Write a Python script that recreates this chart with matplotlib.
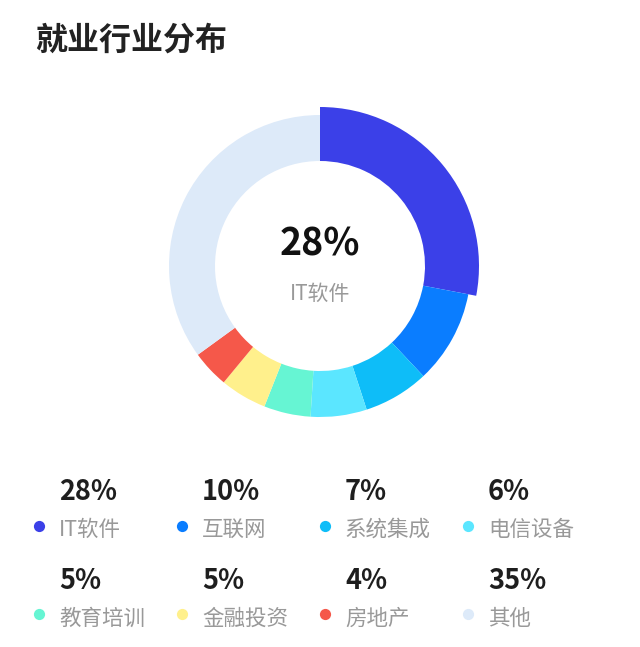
import matplotlib
matplotlib.use('Agg')
import matplotlib.pyplot as plt

plt.rcParams['font.family'] = ['Noto Sans CJK SC', 'DejaVu Sans']

# data
title = '就业行业分布'
industries = ['IT软件', '互联网', '系统集成', '电信设备', '教育培训', '金融投资', '房地产', '其他']
shares = [28, 10, 7, 6, 5, 5, 4, 35]
colors = ['#3B40E8', '#0A7DFF', '#0EBDF8', '#5BE6FF', '#66F5D3', '#FFF08C', '#F5584A', '#DDEAF9']
highlight = 0

W, H = 640, 647
fig = plt.figure(figsize=(W / 100, H / 100), dpi=100)
ax = fig.add_axes([0, 0, 1, 1])

cx, cy = 320, H - 266
r_out, r_in, r_hi = 151, 105, 159

wedges, _ = ax.pie(shares, colors=colors, startangle=90, counterclock=False,
                   center=(cx, cy), radius=r_out, frame=True,
                   wedgeprops=dict(width=r_out - r_in, linewidth=0))
wedges[highlight].set_radius(r_hi)
wedges[highlight].set_width(r_hi - r_in)
ax.set_xlim(0, W)
ax.set_ylim(0, H)
ax.set_aspect('equal')
ax.axis('off')

# centre label
ax.text(cx, H - 244, f'{shares[highlight]}%', ha='center', va='center',
        fontsize=27, fontweight='bold', color='#111111')
ax.text(cx, H - 294, industries[highlight], ha='center', va='center',
        fontsize=15, color='#999999')

# title
ax.text(35, H - 41, title, ha='left', va='center', fontsize=23,
        fontweight='bold', color='#222222')

# legend grid
for i, (name, val, col) in enumerate(zip(industries, shares, colors)):
    c, r = i % 4, i // 4
    x0 = 39 + 143 * c
    y_pct = H - (492 + 89 * r)
    y_lab = H - (530 + 89 * r)
    ax.scatter([x0], [H - (526 + 88 * r)], s=65, color=col, linewidths=0)
    ax.text(x0 + 20, y_pct, f'{val}%', ha='left', va='center', fontsize=19.5,
            fontweight='bold', color='#1E1E1E')
    ax.text(x0 + 20, y_lab, name, ha='left', va='center', fontsize=15.5,
            color='#999999')

fig.savefig('out.png', dpi=100, facecolor='white')
